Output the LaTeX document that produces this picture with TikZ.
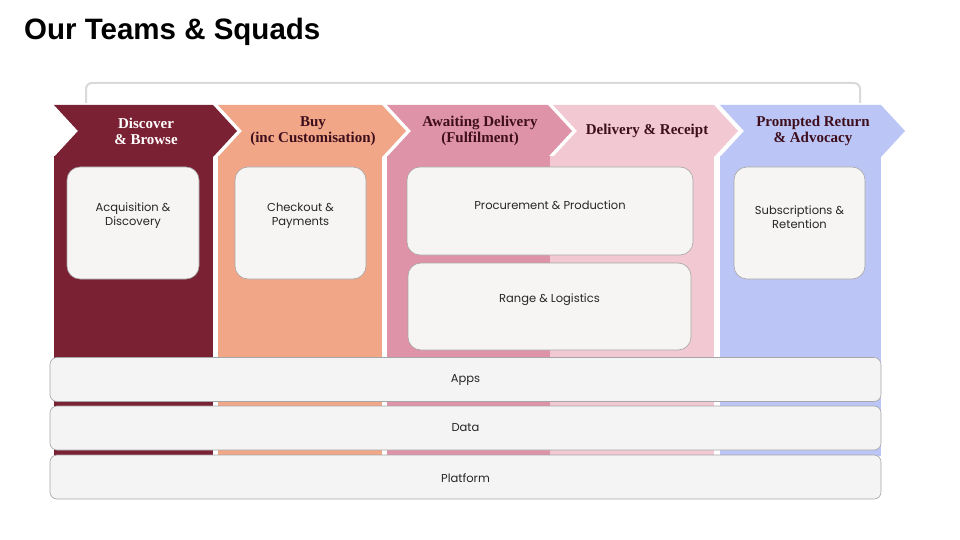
\documentclass[tikz,border=0pt]{standalone}
\usepackage{fontspec}
\setmainfont{Liberation Sans}
\newfontfamily\headf{Liberation Serif}
\newfontfamily\boxf{Poppins}
\definecolor{cA}{HTML}{7A2134}
\definecolor{cB}{HTML}{F2A688}
\definecolor{cC}{HTML}{DF93A8}
\definecolor{cD}{HTML}{F2C8D3}
\definecolor{cE}{HTML}{BCC6F6}
\definecolor{headtxt}{HTML}{3E0E1C}
\definecolor{boxbg}{HTML}{F6F5F3}
\definecolor{barbg}{HTML}{F4F4F4}
\definecolor{bracket}{HTML}{D9D9D9}
\tikzset{
  headlbl/.style={font=\headf\bfseries\fontsize{15}{16}\selectfont, align=center, text=headtxt},
  squad/.style={draw=black!35, fill=boxbg, rounded corners=13, line width=0.6pt},
  squadlbl/.style={font=\boxf\fontsize{11.5}{14}\selectfont, align=center, text=black!85},
  layer/.style={draw=black!35, fill=barbg, rounded corners=7, line width=0.6pt},
}
\begin{document}
\begin{tikzpicture}[x=1pt,y=-1pt]
\useasboundingbox (0,0) rectangle (960,540);
\fill[white] (0,0) rectangle (960,540);

\node[anchor=base west, font=\bfseries\fontsize{29.5}{32}\selectfont, inner sep=0] (title) at (24,40) {Our Teams \& Squads};

% bracket
\draw[bracket, line width=2pt, rounded corners=6] (86,103) -- (86,83) -- (860,83) -- (860,103);

% column bodies
\fill[cA] (54,156) rectangle (213,456);
\fill[cB] (218,156) rectangle (382,456);
\fill[cC] (387,156) rectangle (551,456);
\fill[cD] (550,156) rectangle (714,456);
\fill[cE] (720,156) rectangle (881,456);

% chevrons
\fill[cA] (54,105) -- (213,105) -- (237,131) -- (213,157) -- (54,157) -- (78,131) -- cycle;
\fill[cB] (218,105) -- (382,105) -- (406,131) -- (382,157) -- (218,157) -- (242,131) -- cycle;
\fill[cC] (387,105) -- (548,105) -- (572,131) -- (548,157) -- (387,157) -- (411,131) -- cycle;
\fill[cD] (553,105) -- (714,105) -- (738,131) -- (714,157) -- (553,157) -- (577,131) -- cycle;
\fill[cE] (720,105) -- (881,105) -- (905,131) -- (881,157) -- (720,157) -- (744,131) -- cycle;

\node[headlbl, text=white] (h1) at (146,131) {Discover\\\& Browse};
\node[headlbl] (h2) at (313,131) {Buy\\(inc Customisation)};
\node[headlbl] (h3) at (480,131) {Awaiting Delivery\\(Fulfilment)};
\node[headlbl] (h4) at (647,131) {Delivery \& Receipt};
\node[headlbl] (h5) at (813,131) {Prompted Return\\\& Advocacy};

% squads
\node[squad, minimum width=132, minimum height=112] (acq) at (133,223) {};
\node[squadlbl] (acqt) at (133,216) {Acquisition \&\\Discovery};
\node[squad, minimum width=131, minimum height=112] (chk) at (300.5,223) {};
\node[squadlbl] (chkt) at (300.5,216) {Checkout \&\\Payments};
\node[squad, minimum width=286, minimum height=88] (proc) at (550,211) {};
\node[squadlbl] (proct) at (550,205) {Procurement \& Production};
\node[squad, minimum width=283, minimum height=87] (rng) at (549.5,306.5) {};
\node[squadlbl] (rngt) at (549.5,300) {Range \& Logistics};
\node[squad, minimum width=131, minimum height=112] (sub) at (799.5,223) {};
\node[squadlbl] (subt) at (799.5,217) {Subscriptions \&\\Retention};

% layers
\node[layer, minimum width=831, minimum height=44] (apps) at (465.5,379.5) {};
\node[squadlbl] (appst) at (465.5,380) {Apps};
\node[layer, minimum width=831, minimum height=44] (data) at (465.5,428) {};
\node[squadlbl] (datat) at (465.5,428) {Data};
\node[layer, minimum width=831, minimum height=44] (plat) at (465.5,477) {};
\node[squadlbl] (platt) at (465.5,478) {Platform};
\end{tikzpicture}
\end{document}
